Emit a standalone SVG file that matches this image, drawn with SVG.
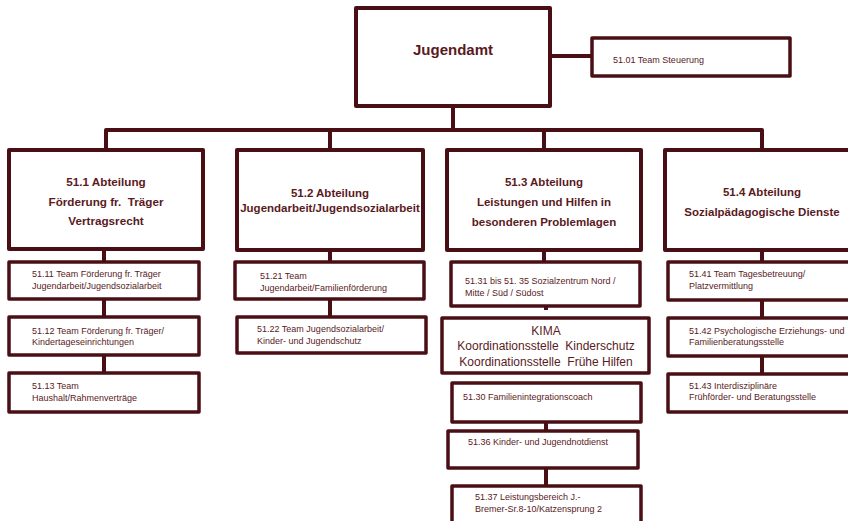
<svg xmlns="http://www.w3.org/2000/svg" width="848" height="521" viewBox="0 0 848 521">
<style>
.box{fill:#fff;stroke:#4a0f14;stroke-width:4;stroke-linejoin:round}
.sbox{fill:#fff;stroke:#4a0f14;stroke-width:3.5;stroke-linejoin:round}
.con{fill:none;stroke:#4a0f14;stroke-width:4;stroke-linejoin:round}
.h{font-family:"Liberation Sans",Arial,sans-serif;font-weight:bold;fill:#5a1a1e;text-anchor:middle;white-space:pre}
.t{font-family:"Liberation Sans",Arial,sans-serif;font-size:9px;fill:#5a1a1e}
.k{font-family:"Liberation Sans",Arial,sans-serif;font-size:12px;fill:#5a1a1e;text-anchor:middle;white-space:pre}
</style>
<rect width="848" height="521" fill="#fff"/>
<g id="connectors">
<path class="con" d="M453 106V130M550 56H592M106 150V130H762V150M330 130V150M544 130V150"/>
<path class="con" d="M104 250V262M104 299V317M104 355V373"/>
<path class="con" d="M330 250V262M330 299V317"/>
<path class="con" d="M544 250V262M546 306V310M546 422V431M546 468V486"/>
<path class="con" d="M762 250V262M762 300V318M762 356V374"/>
</g>
<g id="jugendamt"><rect class="box" x="356" y="8" width="194" height="98"/><text class="h" x="453" y="55" font-size="15">Jugendamt</text></g>
<g id="steuerung"><rect class="sbox" x="592" y="38" width="198" height="38"/><text class="t" x="613" y="63">51.01 Team Steuerung</text></g>
<g id="abt511"><rect class="box" x="9" y="150" width="194" height="99"/>
<text class="h" x="106" y="186" font-size="11.7">51.1 Abteilung</text>
<text class="h" x="106" y="206" font-size="11.7">Förderung fr.  Träger</text>
<text class="h" x="106" y="225" font-size="11.7">Vertragsrecht</text></g>
<g id="abt512"><rect class="box" x="237" y="150" width="186" height="100"/>
<text class="h" x="330" y="197" font-size="11.5">51.2 Abteilung</text>
<text class="h" x="330" y="212" font-size="11.5">Jugendarbeit/Jugendsozialarbeit</text></g>
<g id="abt513"><rect class="box" x="447" y="150" width="194" height="100"/>
<text class="h" x="544" y="186" font-size="11.5">51.3 Abteilung</text>
<text class="h" x="544" y="206" font-size="11.5">Leistungen und Hilfen in</text>
<text class="h" x="544" y="226" font-size="11.5">besonderen Problemlagen</text></g>
<g id="abt514"><rect class="box" x="665" y="150" width="195" height="100"/>
<text class="h" x="762" y="196" font-size="11.5">51.4 Abteilung</text>
<text class="h" x="762" y="216" font-size="11.5">Sozialpädagogische Dienste</text></g>
<g id="t5111"><rect class="sbox" x="9" y="262" width="190" height="37"/><text class="t" x="32" y="277">51.11 Team Förderung fr. Träger</text><text class="t" x="32" y="289">Jugendarbeit/Jugendsozialarbeit</text></g>
<g id="t5112"><rect class="sbox" x="9" y="317" width="190" height="38"/><text class="t" x="32" y="334">51.12 Team Förderung fr. Träger/</text><text class="t" x="32" y="345">Kindertageseinrichtungen</text></g>
<g id="t5113"><rect class="sbox" x="9" y="373" width="190" height="39"/><text class="t" x="32" y="389">51.13 Team</text><text class="t" x="32" y="401">Haushalt/Rahmenverträge</text></g>
<g id="t5121"><rect class="sbox" x="235" y="262" width="189" height="37"/><text class="t" x="260" y="279">51.21 Team</text><text class="t" x="260" y="291">Jugendarbeit/Familienförderung</text></g>
<g id="t5122"><rect class="sbox" x="237" y="317" width="189" height="36"/><text class="t" x="257" y="332">51.22 Team Jugendsozialarbeit/</text><text class="t" x="257" y="344">Kinder- und Jugendschutz</text></g>
<g id="t5131"><rect class="sbox" x="451" y="262" width="189" height="44"/><text class="t" x="465" y="284">51.31 bis 51. 35 Sozialzentrum Nord /</text><text class="t" x="465" y="296">Mitte / Süd / Südost</text></g>
<g id="kima"><rect class="sbox" x="442" y="318" width="207" height="55"/>
<text class="k" x="546" y="335">KIMA</text>
<text class="k" x="546" y="350">Koordinationsstelle  Kinderschutz</text>
<text class="k" x="546" y="366">Koordinationsstelle  Frühe Hilfen</text></g>
<g id="t5130"><rect class="sbox" x="452" y="383" width="189" height="39"/><text class="t" x="463" y="400">51.30 Familienintegrationscoach</text></g>
<g id="t5136"><rect class="sbox" x="448" y="431" width="190" height="37"/><text class="t" x="468" y="445">51.36 Kinder- und Jugendnotdienst</text></g>
<g id="t5137"><rect class="sbox" x="452" y="486" width="189" height="45"/><text class="t" x="475" y="500">51.37 Leistungsbereich J.-</text><text class="t" x="475" y="512">Bremer-Sr.8-10/Katzensprung 2</text></g>
<g id="t5141"><rect class="sbox" x="668" y="262" width="190" height="38"/><text class="t" x="689" y="277">51.41 Team Tagesbetreuung/</text><text class="t" x="689" y="289">Platzvermittlung</text></g>
<g id="t5142"><rect class="sbox" x="668" y="318" width="190" height="38"/><text class="t" x="689" y="334">51.42 Psychologische Erziehungs- und</text><text class="t" x="689" y="345">Familienberatungsstelle</text></g>
<g id="t5143"><rect class="sbox" x="668" y="374" width="190" height="38"/><text class="t" x="689" y="389">51.43 Interdisziplinäre</text><text class="t" x="689" y="400">Frühförder- und Beratungsstelle</text></g>
</svg>
